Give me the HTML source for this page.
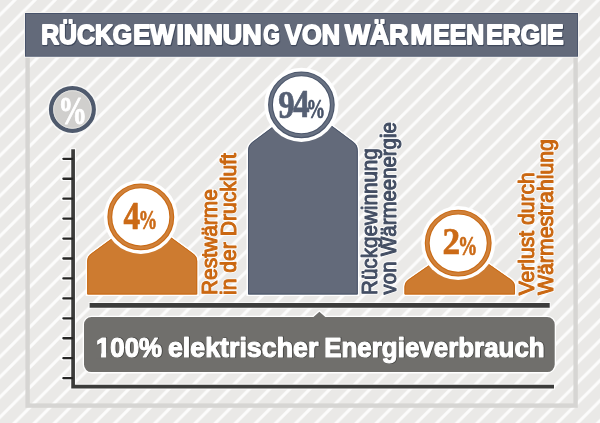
<!DOCTYPE html>
<html lang="de">
<head>
<meta charset="utf-8">
<title>Rückgewinnung von Wärmeenergie</title>
<style>
  html, body { margin: 0; padding: 0; background: #eae9e7; }
  body { width: 600px; height: 423px; overflow: hidden; }
  svg { display: block; }
  .sans { font-family: "Liberation Sans", sans-serif; font-weight: bold; }
  .serif { font-family: "Liberation Serif", serif; font-weight: bold; }
  text { stroke-linejoin: round; }
</style>
</head>
<body>
<svg width="600" height="423" viewBox="0 0 600 423">
  <defs>
    <pattern id="stripes" width="20.12" height="20.12" patternUnits="userSpaceOnUse" x="-5.3" y="0">
      <path d="M-3,3 L3,-3 M-3,23.12 L23.12,-3 M17.12,23.12 L23.12,17.12" stroke="#ffffff" stroke-opacity="0.88" stroke-width="2.9" fill="none"/>
    </pattern>
  </defs>

  <!-- background -->
  <rect x="0" y="0" width="600" height="423" fill="#eae9e7"/>
  <!-- diagonal stripes -->
  <rect x="0" y="0" width="600" height="423" fill="url(#stripes)"/>
  <!-- frame -->
  <rect x="27.6" y="15" width="548" height="390.6" fill="none" stroke="#d6d5d3" stroke-width="4.4"/>

  <!-- header -->
  <rect x="24" y="12" width="555" height="45.7" fill="#f4f3f1"/>
  <rect x="25" y="13" width="553" height="43.7" fill="#47526a"/>
  <rect x="26" y="14" width="551.2" height="41.9" fill="#636a7a"/>
  <g class="sans" font-size="28.4" stroke-width="1.9">
    <g fill="#3f485b" stroke="#3f485b" stroke-width="2.5" transform="translate(0.6,0.7)">
      <text y="44.3"><tspan x="41.2" textLength="91" lengthAdjust="spacingAndGlyphs">RÜCKG</tspan><tspan x="133.2" textLength="41.5" lengthAdjust="spacingAndGlyphs">EW</tspan><tspan x="176.6" textLength="85" lengthAdjust="spacingAndGlyphs">INNUN</tspan><tspan x="263.3" textLength="16.6" lengthAdjust="spacingAndGlyphs">G</tspan></text>
      <text y="44.3"><tspan x="285" textLength="55" lengthAdjust="spacingAndGlyphs">VON</tspan></text>
      <text y="44.3"><tspan x="345.1" textLength="63.2" lengthAdjust="spacingAndGlyphs">WÄR</tspan><tspan x="410.5" textLength="21.6" lengthAdjust="spacingAndGlyphs">M</tspan><tspan x="433.2" textLength="51" lengthAdjust="spacingAndGlyphs">EEN</tspan><tspan x="486.2" textLength="77.5" lengthAdjust="spacingAndGlyphs">ERGIE</tspan></text>
    </g>
    <g fill="#ffffff" stroke="#ffffff">
      <text y="44.3"><tspan x="41.2" textLength="91" lengthAdjust="spacingAndGlyphs">RÜCKG</tspan><tspan x="133.2" textLength="41.5" lengthAdjust="spacingAndGlyphs">EW</tspan><tspan x="176.6" textLength="85" lengthAdjust="spacingAndGlyphs">INNUN</tspan><tspan x="263.3" textLength="16.6" lengthAdjust="spacingAndGlyphs">G</tspan></text>
      <text y="44.3"><tspan x="285" textLength="55" lengthAdjust="spacingAndGlyphs">VON</tspan></text>
      <text y="44.3"><tspan x="345.1" textLength="63.2" lengthAdjust="spacingAndGlyphs">WÄR</tspan><tspan x="410.5" textLength="21.6" lengthAdjust="spacingAndGlyphs">M</tspan><tspan x="433.2" textLength="51" lengthAdjust="spacingAndGlyphs">EEN</tspan><tspan x="486.2" textLength="77.5" lengthAdjust="spacingAndGlyphs">ERGIE</tspan></text>
    </g>
  </g>

  <!-- axes halo -->
  <g stroke="#ffffff" stroke-opacity="0.85" fill="none">
    <path d="M73.1,148.3 V386.6 H555" stroke-width="5.8"/>
    <path d="M62.4,158.8 H72 M62.4,178.74 H72 M62.4,198.68 H72 M62.4,218.62 H72 M62.4,238.56 H72 M62.4,258.5 H72 M62.4,278.44 H72 M62.4,298.38 H72 M62.4,318.32 H72 M62.4,338.26 H72 M62.4,358.2 H72 M62.4,378.14 H72" stroke-width="4.4" stroke-linecap="round"/>
    <path d="M88.6,305.45 H550.6" stroke-width="6.2"/>
  </g>
  <!-- y axis + ticks -->
  <g stroke="#3c3c3b" fill="none">
    <path d="M73.1,149.2 V386.6 H554" stroke-width="3.7" stroke-linejoin="miter"/>
    <g stroke-width="2.3" stroke-linecap="round" stroke="#262625">
      <path d="M63.4,158.8 H72 M63.4,178.74 H72 M63.4,198.68 H72 M63.4,218.62 H72 M63.4,238.56 H72 M63.4,258.5 H72 M63.4,278.44 H72 M63.4,298.38 H72 M63.4,318.32 H72 M63.4,338.26 H72 M63.4,358.2 H72 M63.4,378.14 H72"/>
    </g>
    <path d="M89.6,305.4 H549.7" stroke-width="4.9"/>
  </g>

  <!-- % badge -->
  <circle cx="72.4" cy="109.5" r="25" fill="#f7f7f6"/>
  <circle cx="72.4" cy="109.5" r="21.35" fill="#d0cfcd" stroke="#4f5a6d" stroke-width="4.3"/>
  <circle cx="72.4" cy="109.5" r="18.8" fill="none" stroke="#e9e8e6" stroke-width="0.8"/>
  <text class="serif" x="72.55" y="123.7" font-size="40.6" fill="#ffffff" stroke="#ffffff" stroke-width="1" text-anchor="middle" textLength="28.8" lengthAdjust="spacingAndGlyphs">%</text>

  <!-- bar 1 (4%) -->
  <path id="b1" d="M87.2,294.5 V261 Q87.2,256.4 90.9,253.7 L115.1,236 H169.3 L193.5,253.7 Q197.2,256.4 197.2,261 V294.5 Z" fill="#cd7b30" stroke="#ffffff" stroke-width="3" paint-order="stroke"/>
  <path d="M87.7,294 V261 Q87.7,256.6 91.2,254.1 L115.3,236.5 H169.1 L193.2,254.1 Q196.7,256.6 196.7,261 V294 Z" fill="none" stroke="#c96a14" stroke-width="1"/>
  <circle cx="140.8" cy="216.9" r="37" fill="#ffffff"/>
  <circle cx="140.8" cy="216.9" r="31" fill="#ffffff" stroke="#c96a14" stroke-width="4.9"/>
  <circle cx="140.8" cy="216.9" r="31" fill="none" stroke="#d0813a" stroke-width="2.7"/>
  <text class="serif" fill="#cb6a16" stroke="#cb6a16" stroke-width="0.7"><tspan x="123.4" y="228.6" font-size="39.2" textLength="16.6" lengthAdjust="spacingAndGlyphs">4</tspan><tspan x="138.4" y="229" font-size="28" textLength="18.8" lengthAdjust="spacingAndGlyphs">%</tspan></text>

  <!-- bar 2 (94%) -->
  <path d="M248,294.5 V150.5 Q248,145.2 252.1,142.1 L274.3,125.5 H331.5 L353.7,142.1 Q357.8,145.2 357.8,150.5 V294.5 Z" fill="#636a7a" stroke="#ffffff" stroke-width="3" paint-order="stroke"/>
  <path d="M248.5,294 V150.5 Q248.5,145.4 252.4,142.5 L274.5,126 H331.3 L353.4,142.5 Q357.3,145.4 357.3,150.5 V294 Z" fill="none" stroke="#4b566b" stroke-width="1"/>
  <circle cx="301.4" cy="104.8" r="37.1" fill="#ffffff"/>
  <circle cx="301.4" cy="104.8" r="30.9" fill="#ffffff" stroke="#4b566b" stroke-width="4.9"/>
  <circle cx="301.4" cy="104.8" r="30.9" fill="none" stroke="#687182" stroke-width="2.7"/>
  <text class="serif" fill="#566074" stroke="#566074" stroke-width="0.7"><tspan x="278.2" y="117.6" font-size="39.6" textLength="16.4" lengthAdjust="spacingAndGlyphs">9</tspan><tspan x="293.1" y="117.4" font-size="39.6" textLength="16.6" lengthAdjust="spacingAndGlyphs">4</tspan><tspan x="306.6" y="117.7" font-size="27.6" textLength="18.7" lengthAdjust="spacingAndGlyphs" fill="#465167" stroke="#465167">%</tspan></text>

  <!-- bar 3 (2%) -->
  <path d="M404.5,294.5 V286.8 Q404.5,282.3 408.3,279.6 L433.5,262 H486 L511.2,279.6 Q515,282.3 515,286.8 V294.5 Z" fill="#cd7b30" stroke="#ffffff" stroke-width="3" paint-order="stroke"/>
  <path d="M405,294 V286.8 Q405,282.5 408.6,280 L433.7,262.5 H485.8 L510.9,280 Q514.5,282.5 514.5,286.8 V294 Z" fill="none" stroke="#c96a14" stroke-width="1"/>
  <circle cx="458.2" cy="243.1" r="37" fill="#ffffff"/>
  <circle cx="458.2" cy="243.1" r="31" fill="#ffffff" stroke="#c96a14" stroke-width="4.9"/>
  <circle cx="458.2" cy="243.1" r="31" fill="none" stroke="#d0813a" stroke-width="2.7"/>
  <text class="serif" fill="#cb6a16" stroke="#cb6a16" stroke-width="0.7"><tspan x="442.6" y="254" font-size="38.8" textLength="17.6" lengthAdjust="spacingAndGlyphs">2</tspan><tspan x="458" y="254.5" font-size="27.6" textLength="19.4" lengthAdjust="spacingAndGlyphs">%</tspan></text>

  <!-- rotated labels: white halo -->
  <g class="sans" font-size="22.2" stroke="#ffffff" stroke-opacity="0.8" stroke-width="3" fill="#ffffff" style="font-weight:normal">
    <text transform="translate(216.6,295) rotate(-90)" textLength="105.8" lengthAdjust="spacingAndGlyphs">Restwärme</text>
    <text transform="translate(235.6,295) rotate(-90)" textLength="142" lengthAdjust="spacingAndGlyphs">in der Druckluft</text>
    <text transform="translate(376.9,295) rotate(-90)" textLength="146.8" lengthAdjust="spacingAndGlyphs">Rückgewinnung</text>
    <text transform="translate(395.9,294.4) rotate(-90)" textLength="172.2" lengthAdjust="spacingAndGlyphs">von Wärmeenergie</text>
    <text transform="translate(533.6,295.3) rotate(-90)" textLength="123.1" lengthAdjust="spacingAndGlyphs">Verlust durch</text>
    <text transform="translate(552.7,295.05) rotate(-90)" textLength="156" lengthAdjust="spacingAndGlyphs">Wärmestrahlung</text>
  </g>
  <!-- rotated labels -->
  <g class="sans" font-size="22" stroke-width="1.05" style="font-weight:normal">
    <text transform="translate(216.6,295) rotate(-90)" fill="#ca6710" stroke="#ca6710" textLength="105.8" lengthAdjust="spacingAndGlyphs">Restwärme</text>
    <text transform="translate(235.6,295) rotate(-90)" fill="#ca6710" stroke="#ca6710" textLength="142" lengthAdjust="spacingAndGlyphs">in der Druckluft</text>
    <text transform="translate(376.9,295) rotate(-90)" fill="#434e63" stroke="#434e63" textLength="146.8" lengthAdjust="spacingAndGlyphs">Rückgewinnung</text>
    <text transform="translate(395.9,294.4) rotate(-90)" fill="#434e63" stroke="#434e63" textLength="172.2" lengthAdjust="spacingAndGlyphs">von Wärmeenergie</text>
    <text transform="translate(533.6,295.3) rotate(-90)" fill="#ca6710" stroke="#ca6710" textLength="123.1" lengthAdjust="spacingAndGlyphs">Verlust durch</text>
    <text transform="translate(552.7,295.05) rotate(-90)" fill="#ca6710" stroke="#ca6710" textLength="156" lengthAdjust="spacingAndGlyphs">Wärmestrahlung</text>
  </g>

  <!-- bottom label box -->
  <g fill="#706f6c" stroke="#ffffff" stroke-width="2.6" paint-order="stroke">
    <path d="M91.5,317 H313.5 L319.4,311.8 L325.3,317 H547.2 A7.5,7.5 0 0 1 554.7,324.5 V364.6 A7.5,7.5 0 0 1 547.2,372.1 H91.5 A7.5,7.5 0 0 1 84,364.6 V324.5 A7.5,7.5 0 0 1 91.5,317 Z"/>
  </g>
  <g class="sans" font-size="27.4">
    <g fill="#474745" stroke="#474745" stroke-width="2.2" transform="translate(0.5,0.6)">
      <text x="96" y="356.6" textLength="66" lengthAdjust="spacingAndGlyphs">100%</text>
      <text x="167.9" y="356.6" textLength="150.5" lengthAdjust="spacingAndGlyphs">elektrischer</text>
      <text x="324.2" y="356.6" textLength="220.5" lengthAdjust="spacingAndGlyphs">Energieverbrauch</text>
    </g>
    <g fill="#ffffff" stroke="#ffffff" stroke-width="1.2">
      <text x="96" y="356.6" textLength="66" lengthAdjust="spacingAndGlyphs">100%</text>
      <text x="167.9" y="356.6" textLength="150.5" lengthAdjust="spacingAndGlyphs">elektrischer</text>
      <text x="324.2" y="356.6" textLength="220.5" lengthAdjust="spacingAndGlyphs">Energieverbrauch</text>
    </g>
  </g>
  <!-- trim the foot of the digit 1 so it reads like the reference typeface -->
  <path d="M96,352.7 H101.05 V358.6 H96 Z M106.05,352.7 H110.7 V358.6 H106.05 Z" fill="#706f6c"/>
</svg>
</body>
</html>
